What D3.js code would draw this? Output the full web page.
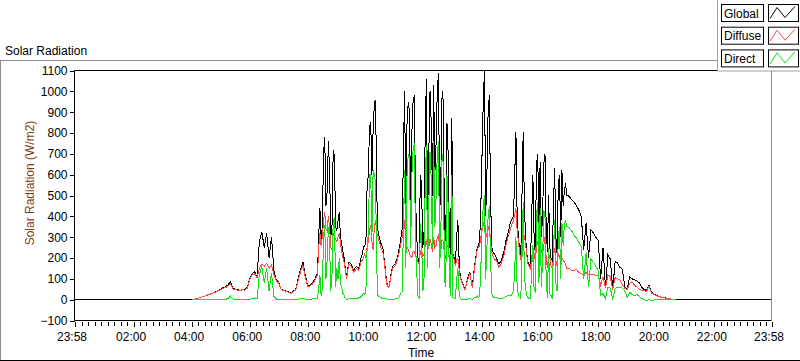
<!DOCTYPE html>
<html><head><meta charset="utf-8">
<script src="https://cdn.jsdelivr.net/npm/d3@7/dist/d3.min.js"></script>
<style>
html,body{margin:0;padding:0;background:#fff;}
svg{display:block;font-family:"Liberation Sans",Arial,sans-serif;}
</style></head><body>
<svg id="c" width="800" height="361"></svg>
<script>
// ---------- data ----------
const dayStartMinute = -2;      // 23:58 previous day
const dayEndMinute = 1438;      // 23:58
// sampling segments: [start minute, step minutes, count]
const sampleSegments = [[240,5,48],[480,2.5,216],[1020,5,45]];

const globalValues = [
  0,2,4,8,12,16,20,24,28,32,38,45,
  50,58,62,70,86,55,50,48,45,50,48,60,
  100,125,135,110,280,326,250,320,200,300,140,95,
  85,50,45,42,38,32,40,50,100,145,180,115,
  // 08:00
  65,67,70,75,80,90,100,115,130,300,440,280,350,700,780,450,520,760,620,300,360,720,690,350,
  330,380,420,300,270,230,200,150,110,150,180,175,170,150,140,150,160,155,150,170,200,220,250,260,
  270,540,600,830,850,600,820,940,960,500,330,300,280,260,250,200,150,90,70,60,90,130,160,165,
  170,185,200,230,260,300,340,700,1000,400,850,950,900,450,800,950,980,500,300,200,180,600,550,250,
  300,800,1060,400,700,1000,850,500,1030,600,750,1000,1090,400,600,1000,950,300,280,850,700,300,200,870,
  220,200,170,300,380,200,110,90,80,60,50,80,100,120,130,90,60,120,170,210,250,260,280,450,
  700,950,1100,400,600,900,980,500,250,230,220,210,200,180,170,180,190,210,230,260,290,310,330,360,
  380,390,400,600,805,400,300,250,200,500,805,450,300,220,180,170,160,400,600,300,220,650,700,350,
  660,300,400,650,700,350,230,500,250,200,190,450,630,300,220,550,600,300,620,450,520,560,500,500,
  // 17:00
  495,480,470,450,430,400,240,370,200,335,320,300,
  285,100,250,60,215,195,50,185,175,155,145,60,
  50,110,100,95,90,80,60,48,45,70,35,28,
  20,16,13,10,8,5,3,1,0
];
const diffuseValues = [
  0,2,4,8,12,16,20,24,28,32,37,44,
  48,55,58,65,75,52,48,46,44,48,46,55,
  95,118,125,105,150,170,160,175,150,165,120,90,
  80,48,43,40,36,30,38,47,92,135,165,105,
  // 08:00
  62,64,67,72,76,85,95,108,120,250,320,260,300,380,420,340,330,400,350,250,240,320,300,290,
  280,300,320,270,230,200,180,140,100,140,170,165,160,145,130,140,150,145,140,160,180,190,200,220,
  200,250,280,330,360,280,240,350,380,320,300,280,260,240,230,190,140,80,65,60,85,120,150,155,
  160,175,190,215,240,270,300,340,380,260,250,240,220,210,200,230,230,210,200,180,170,230,240,210,
  220,260,290,240,250,290,270,230,300,250,260,300,310,250,240,290,280,210,200,260,250,200,180,270,
  210,190,160,190,200,150,105,85,75,58,48,75,95,110,125,88,58,110,160,200,240,250,260,300,
  330,360,380,330,300,340,360,280,230,210,200,190,185,170,155,165,175,195,210,240,270,290,310,330,
  350,365,380,410,440,330,280,230,190,270,330,300,270,210,170,160,150,200,250,220,190,250,280,240,
  270,230,220,260,300,200,150,220,200,160,150,200,250,190,160,220,210,180,200,190,180,170,150,150,
  // 17:00
  150,140,140,145,130,125,120,130,120,120,120,118,
  118,70,110,55,120,110,48,105,100,95,70,55,
  48,80,85,70,60,50,45,42,40,65,32,26,
  18,15,12,9,7,5,3,1,0
];
const directValues = [
  0,0,0,0,0,0,0,0,0,0,0,0,
  0,0,2,5,18,3,0,0,0,0,0,3,
  2,5,8,3,120,160,80,150,40,130,15,3,
  3,0,0,0,0,0,0,0,2,5,8,3,
  // 08:00
  2,2,3,3,4,4,5,6,8,50,120,20,50,300,360,100,190,350,270,40,120,380,390,60,
  150,100,200,80,60,30,20,5,3,3,5,5,5,4,3,4,5,6,8,10,15,20,30,25,
  40,250,320,600,600,300,620,600,560,150,20,15,10,8,5,5,5,4,3,3,3,3,3,3,
  3,4,5,10,20,30,40,350,620,150,600,700,680,250,600,720,750,270,130,20,10,370,300,40,
  80,550,740,150,450,710,580,250,760,350,490,700,760,150,350,700,650,90,60,600,450,100,20,600,
  10,8,5,100,150,40,5,3,3,2,0,3,3,5,5,2,0,5,10,10,20,10,15,150,
  350,450,500,100,250,400,450,200,30,15,10,10,10,8,5,5,5,8,10,12,15,18,20,20,
  20,30,40,150,300,60,20,10,5,200,470,120,50,20,10,5,5,150,260,50,40,400,470,80,
  440,60,180,430,400,100,10,250,30,20,5,250,380,80,40,300,350,100,370,260,360,380,350,350,
  // 17:00
  345,330,310,295,275,255,100,225,60,195,180,160,
  140,20,30,5,60,55,0,55,60,60,55,40,
  10,35,25,20,25,15,5,0,-5,0,-3,-2,
  2,2,2,2,2,2,2,1,0
];
const seriesNames = ["Global","Diffuse","Direct"];
const yTickValues = [-100,0,100,200,300,400,500,600,700,800,900,1000,1100];
const xTickMinutes = [-2,120,240,360,480,600,720,840,960,1080,1200,1320,1438];
const xTickLabels = ["23:58","02:00","04:00","06:00","08:00","10:00","12:00","14:00","16:00","18:00","20:00","22:00","23:58"];
const chartTitle = "Solar Radiation";
const yTitle = "Solar Radiation (W/m2)";
const xTitle = "Time";

// ---------- layout ----------
const svg = d3.select("#c");
const P = {l:74.5, r:771.5, t:70.5, b:320.5};
const colors = {Global:"#000000", Diffuse:"#ff4848", Direct:"#12e012"};

const x = d3.scaleLinear().domain([dayStartMinute, dayEndMinute]).range([P.l, P.r]);
const y = d3.scaleLinear().domain([-100, 1100]).range([P.b, P.t]);

// title / frame
svg.append("text").attr("x",5).attr("y",55).attr("font-size",12).attr("fill","#000").text(chartTitle);
svg.append("line").attr("x1",0).attr("x2",717).attr("y1",60.5).attr("y2",60.5).attr("stroke","#8c8c8c");
svg.append("line").attr("x1",0.5).attr("x2",0.5).attr("y1",60).attr("y2",361).attr("stroke","#8c8c8c");
svg.append("line").attr("x1",0).attr("x2",800).attr("y1",360.5).attr("y2",360.5).attr("stroke","#000");

svg.append("clipPath").attr("id","clip").append("rect")
  .attr("x",P.l).attr("y",P.t).attr("width",P.r-P.l).attr("height",P.b-P.t);

// times from sampling segments
const times = [];
sampleSegments.forEach(([s,st,n])=>{ for(let k=0;k<n;k++) times.push(s+k*st); });

const globalData = [[dayStartMinute,0]].concat(times.map((t,i)=>[t,globalValues[i]])).concat([[dayEndMinute,0]]);
const diffuseData = times.map((t,i)=>[t,diffuseValues[i]]);
const directData = times.map((t,i)=>[t,directValues[i]]);
const line = d3.line().x(d=>x(d[0])).y(d=>y(d[1]));
const g = svg.append("g").attr("clip-path","url(#clip)");
[["Global",globalData],["Diffuse",diffuseData],["Direct",directData]].forEach(([n,d])=>{
  g.append("path").datum(d).attr("d",line).attr("fill","none")
   .attr("stroke",colors[n]).attr("stroke-width",1).attr("shape-rendering","crispEdges");
});

// plot frame
svg.append("line").attr("x1",P.l).attr("x2",P.r).attr("y1",P.t).attr("y2",P.t).attr("stroke","#000");
svg.append("line").attr("x1",P.l).attr("x2",P.l).attr("y1",P.t).attr("y2",P.b).attr("stroke","#000");
svg.append("line").attr("x1",P.l).attr("x2",P.r).attr("y1",P.b).attr("y2",P.b).attr("stroke","#000");
svg.append("line").attr("x1",P.r).attr("x2",P.r).attr("y1",P.t).attr("y2",P.b).attr("stroke","#8c8c8c");

// y axis
const ya = svg.append("g").attr("transform",`translate(${P.l},0)`)
  .call(d3.axisLeft(y).tickValues(yTickValues).tickSize(5).tickPadding(2).tickFormat(d3.format("d")));
ya.select(".domain").remove();
ya.selectAll("line").attr("stroke","#000").attr("shape-rendering","crispEdges");
ya.selectAll("text").attr("font-size",12).attr("font-family","Liberation Sans, Arial, sans-serif").attr("fill","#000");

// x axis minor ticks
const minor = d3.range(0, dayEndMinute+1, 120/9).filter(m=>m<=dayEndMinute);
const xm = svg.append("g").attr("transform",`translate(0,${P.b+1})`)
  .call(d3.axisBottom(x).tickValues(minor).tickSize(4).tickFormat(""));
xm.select(".domain").remove();
xm.selectAll("line").attr("stroke","#000").attr("shape-rendering","crispEdges");
// major ticks + labels
const xa = svg.append("g").attr("transform",`translate(0,${P.b+1})`)
  .call(d3.axisBottom(x).tickValues(xTickMinutes).tickSize(5).tickPadding(6)
  .tickFormat((d,i)=>xTickLabels[i]));
xa.select(".domain").remove();
xa.selectAll("line").attr("stroke","#000").attr("shape-rendering","crispEdges");
xa.selectAll("text").attr("font-size",12).attr("font-family","Liberation Sans, Arial, sans-serif").attr("fill","#000").attr("dx",-3);

// axis titles
svg.append("text").attr("x",421).attr("y",357).attr("text-anchor","middle").attr("font-size",12).attr("fill","#000").text(xTitle);
svg.append("text").attr("transform","translate(34,183) rotate(-90)").attr("text-anchor","middle")
  .attr("font-size",12).attr("fill","#7a3c10").text(yTitle);

// legend
const lg = svg.append("g");
lg.append("rect").attr("x",717.5).attr("y",-1).attr("width",84).attr("height",72).attr("fill","#fff").attr("stroke","#a0a0a0");
seriesNames.forEach((n,i)=>{
  const top = 4.5 + i*22.7;
  lg.append("rect").attr("x",721.5).attr("y",top).attr("width",42).attr("height",17).attr("fill","#fff").attr("stroke","#000");
  lg.append("text").attr("x",724).attr("y",top+13).attr("font-size",12).attr("fill","#000").text(n);
  lg.append("rect").attr("x",768.5).attr("y",top).attr("width",30).attr("height",17).attr("fill","#fff").attr("stroke","#000");
  lg.append("path").attr("d",`M770,${top+14}L777,${top+3}L785,${top+13}L795,${top+2}`)
    .attr("fill","none").attr("stroke",colors[n]).attr("stroke-width",1);
});
</script>
</body></html>
